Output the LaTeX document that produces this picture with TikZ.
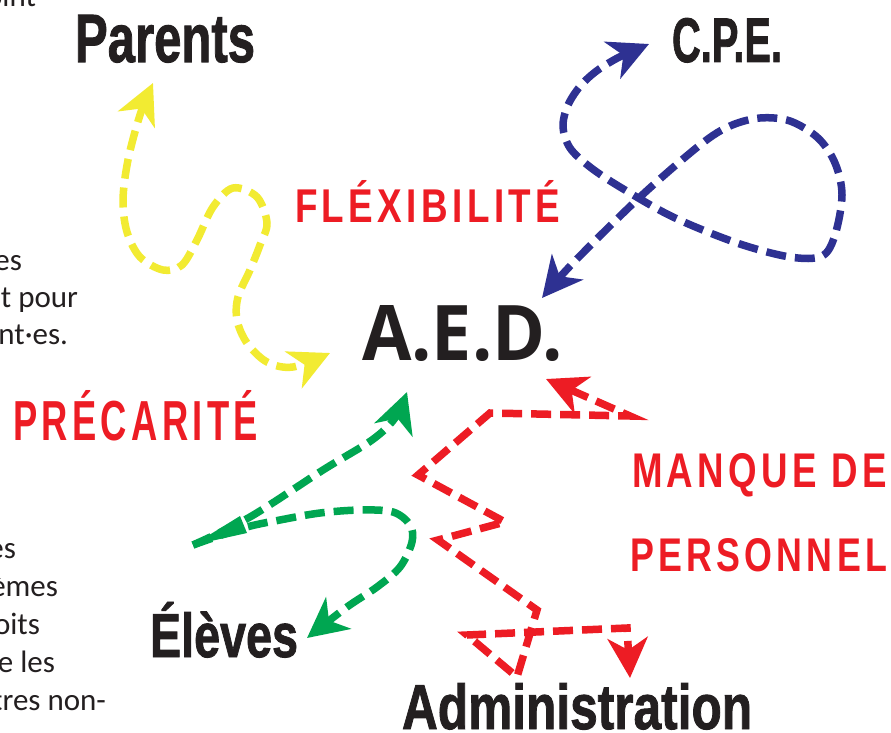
\documentclass[tikz,border=0pt]{standalone}
\usepackage{fontspec}
\usepackage{graphicx}
\usetikzlibrary{arrows.meta}
\setmainfont{Carlito}
\newfontfamily\headfont[BoldFeatures={FakeBold=1.5}]{Liberation Sans}
\newfontfamily\aedfont{Open Sans}
\newfontfamily\bodyfont{Carlito}
\newfontfamily\grungefont[LetterSpace=12]{Liberation Sans}
\definecolor{ink}{RGB}{35,31,32}
\definecolor{cyel}{RGB}{242,235,50}
\definecolor{cblue}{RGB}{46,49,146}
\definecolor{cgreen}{RGB}{0,166,81}
\definecolor{cred}{RGB}{237,28,36}
\tikzset{
  txt/.style={inner sep=0pt, outer sep=0pt, anchor=base west, text=ink},
  side/.style={inner sep=0pt, outer sep=0pt, anchor=base east, text=ink, font=\bodyfont\fontsize{31}{36}\selectfont},
  grunge/.style={inner sep=0pt, outer sep=0pt, anchor=base west, text=cred},
  conn/.style={line width=7.5pt, dash pattern=on 20pt off 9pt},
  bigtip/.tip={Stealth[length=40pt,width=40pt,inset=12pt]}
}
\begin{document}
\begin{tikzpicture}[x=1pt,y=-1pt]
\useasboundingbox (0,0) rectangle (891,733);
\clip (0,0) rectangle (891,733);
\fill[white] (0,0) rectangle (891,733);

% side text fragments
\node[side] (s1) at (36,7) {oint};
\node[side] (s2) at (22,270) {es};
\node[side] (s3) at (78,307) {t pour};
\node[side] (s4) at (68,344) {nt·es.};
\node[side] (s5) at (16,558) {es};
\node[side] (s6) at (58,596) {èmes};
\node[side] (s7) at (40,634) {oits};
\node[side] (s8) at (55,672) {e les};
\node[side] (s9) at (106,710) {tres non-};

% headings
\node[txt] (parents) at (75,62) {\resizebox{180pt}{47pt}{\headfont\bfseries Parents}};
\node[txt] (cpe) at (672,62) {\resizebox{110pt}{44pt}{\headfont\bfseries C.P.E.}};
\node[txt] (eleves) at (150,657) {\resizebox{148pt}{55pt}{\headfont\bfseries Élèves}};
\node[txt] (admin) at (402,729) {\resizebox{350pt}{46pt}{\headfont\bfseries Administration}};
\node[txt] (aed) at (362,360) {\resizebox{201pt}{55pt}{\aedfont\bfseries A.E.D.}};

% grunge labels
\node[grunge] (flex) at (295,222) {\resizebox{265pt}{42pt}{\grungefont\bfseries FLÉXIBILITÉ}};
\node[grunge] (prec) at (13,440) {\resizebox{245pt}{50pt}{\grungefont\bfseries PRÉCARITÉ}};
\node[grunge] (manq) at (632,487) {\resizebox{255pt}{34pt}{\grungefont\bfseries MANQUE DE}};
\node[grunge] (pers) at (630,571) {\resizebox{257pt}{33pt}{\grungefont\bfseries PERSONNEL}};

% yellow: Parents <-> A.E.D.
\coordinate (y0) at (153,83);
\coordinate (y20) at (330,353);
\draw[conn, cyel, {bigtip}-{bigtip}] plot[smooth, tension=0.55] coordinates {
 (y0) (140,115) (128,160) (123,200) (127,232) (140,257) (163,270) (182,265) (197,240)
 (213,207) (233,188) (257,197) (267,223) (260,245) (250,270) (238,297) (237,320)
 (247,343) (267,362) (293,367) (y20)};

% blue: C.P.E. <-> A.E.D.
\coordinate (b0) at (649,44);
\coordinate (b1) at (542,298);
\draw[conn, cblue, {bigtip}-{bigtip}] plot[smooth, tension=0.55] coordinates {
 (b0) (607,64) (583,83) (568,105) (563,127) (570,148) (590,167) (620,187) (673,217)
 (737,243) (790,257) (822,256) (835,235) (842,195) (835,163) (818,138) (790,121)
 (760,118) (730,126) (700,145) (640,197) (573,263) (b1)};

% red: A.E.D. <-> Administration
\coordinate (rA) at (546,379);
\coordinate (rB) at (630,416);
\coordinate (rC) at (490,413);
\coordinate (rD) at (418,475);
\coordinate (rE) at (505,522);
\coordinate (rF) at (438,540);
\coordinate (rG) at (537,610);
\coordinate (rH) at (517,677);
\coordinate (rI) at (467,635);
\coordinate (rJ) at (627,628);
\coordinate (rK) at (630,678);
\draw[conn, cred, line join=miter, miter limit=10, {bigtip}-{bigtip}]
 (rA) -- (rB) -- (rC) -- (rD) -- (rE) -- (rF) -- (rG) -- (rH) -- (rI) -- (rJ) -- (rK);

% green: A.E.D. <-> Élèves
\coordinate (g0) at (193,545);
\coordinate (gT) at (407,392);
\coordinate (gB) at (307,638);
\draw[conn, cgreen, -{bigtip}] plot[smooth, tension=0.55] coordinates {
 (g0) (250,517) (323,470) (372,440) (395,418) (gT)};
\draw[conn, cgreen, -{bigtip}] plot[smooth, tension=0.55] coordinates {
 (g0) (243,528) (280,520) (320,513) (360,510) (393,512) (410,525) (412,542)
 (400,567) (377,587) (347,607) (gB)};
\fill[cgreen] (g0) -- (240,516) -- (247,533) -- cycle;
\end{tikzpicture}
\end{document}
